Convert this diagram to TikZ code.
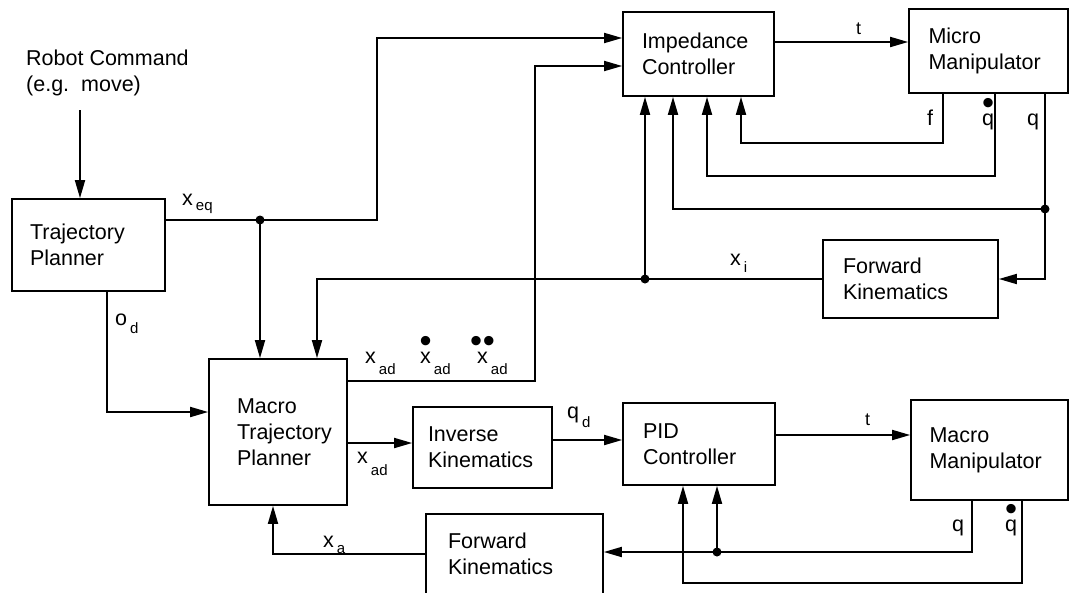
\documentclass[tikz,border=0pt]{standalone}
\usepackage{fontspec}
\setmainfont{Liberation Sans}
\usetikzlibrary{arrows.meta}
\newcommand\blkfont{\fontsize{21.5}{26}\selectfont}
\newcommand\subfont{\fontsize{15}{15}\selectfont}
% signal name with lowered index
\newcommand\sgn[3][7pt]{#2\kern3pt\raisebox{-#1}{\subfont #3}}
% dots over a letter
\newcommand\dotover[2]{\ooalign{#2\cr\hidewidth\raisebox{11pt}{\scalebox{1.6}{#1}}\hidewidth\cr}}
\tikzset{
  blk/.style={draw, line width=1.7pt, align=left, inner sep=2pt, font=\blkfont, text width=#1},
  wire/.style={line width=1.8pt},
  arr/.style={-{Triangle[length=18pt,width=10pt]}, line width=1.8pt},
  lbl/.style={font=\blkfont, inner sep=0pt, anchor=base west},
}
\begin{document}
\begin{tikzpicture}[x=1pt, y=-1pt]
\useasboundingbox (0,0) rectangle (1070,592);

% blocks
\node[blk=117pt, minimum width=153pt, minimum height=92pt] (tp) at (88.5,245) {Trajectory\\Planner};
\node[blk=113pt, minimum width=151pt, minimum height=84pt] (imp) at (698.5,54) {Impedance\\Controller};
\node[blk=120pt, minimum width=159pt, minimum height=84pt] (micro) at (988.5,51) {Micro\\Manipulator};
\node[blk=135pt, minimum width=175pt, minimum height=78pt] (fkt) at (910.5,279) {Forward\\Kinematics};
\node[blk=82pt, minimum width=138pt, minimum height=146pt] (mtp) at (278,432) {Macro\\\mbox{Trajectory}\\Planner\par\vspace*{30pt}};
\node[blk=109pt, minimum width=139pt, minimum height=81pt] (ik) at (482.5,447.5) {Inverse\\Kinematics};
\node[blk=112pt, minimum width=152pt, minimum height=82pt] (pid) at (699,444) {PID\\Controller};
\node[blk=120pt, minimum width=157pt, minimum height=100pt] (macro) at (989.5,450) {Macro\\Manipulator\par\vspace*{20pt}};
\node[blk=133pt, minimum width=177pt, minimum height=80pt] (fkb) at (514.5,554) {Forward\\Kinematics};

% command input
\node[lbl, align=left, anchor=north west] (cmd) at (26,50) {Robot Command\\(e.g.~~move)};
\coordinate (cmdout) at (80,110);
\draw[arr] (cmdout) -- (cmdout |- tp.north);

% equilibrium position
\coordinate (jeq) at (260,220);
\draw[wire] (tp.east |- jeq) -- (jeq);
\draw[arr] (jeq) -| (377,38) -- (377,38 -| imp.west);
\draw[arr] (jeq) -- (jeq |- mtp.north);
\fill (jeq) circle (4.5pt);
\node[lbl] (leq) at (182,205) {\sgn[5pt]{x}{eq}};

% orientation
\draw[arr] (107,0 |- tp.south) |- (mtp.west |- 0,412);
\node[lbl] (lod) at (115,325) {\sgn[8pt]{o}{d}};

% desired macro trajectory to impedance controller
\draw[arr] (mtp.east |- 0,381) -| (535,66) -- (535,66 -| imp.west);
\node[lbl] (lxad) at (365,363) {\sgn[11pt]{x}{ad}};
\node[lbl] (lxadv) at (420,363) {\sgn[11pt]{\dotover{\textbullet}{x}}{ad}};
\node[lbl] (lxada) at (477,363) {\sgn[11pt]{\dotover{\textbullet\kern0.5pt\textbullet}{x}}{ad}};

% micro loop
\draw[arr] (imp.east |- 0,42) -- (micro.west |- 0,42);
\node[lbl, font=\fontsize{18}{18}\selectfont] (lt1) at (856,34) {t};
\draw[arr] (943,0 |- micro.south) |- (741,143) -- (741,0 |- imp.south);
\draw[arr] (995,0 |- micro.south) |- (707,176) -- (707,0 |- imp.south);
\coordinate (jq) at (1045,209);
\draw[wire] (1045,0 |- micro.south) -- (jq);
\draw[arr] (jq) -| (673,0 |- imp.south);
\draw[arr] (jq) |- (fkt.east);
\fill (jq) circle (4.5pt);
\node[lbl] (lf) at (927,125) {f};
\node[lbl] (lqv1) at (982,125) {\dotover{\textbullet}{q}};
\node[lbl] (lq1) at (1027,125) {q};

% micro position
\coordinate (jxi) at (645,279);
\draw[arr] (fkt.west) -| (317,0 |- mtp.north);
\draw[arr] (jxi) -- (jxi |- imp.south);
\fill (jxi) circle (4.5pt);
\node[lbl] (lxi) at (730,265) {\sgn[7pt]{x}{i}};

% macro chain
\draw[arr] (mtp.east |- 0,443) -- (ik.west |- 0,443);
\node[lbl] (lxad2) at (357,463) {\sgn[12pt]{x}{ad}};
\draw[arr] (ik.east |- 0,440) -- (pid.west |- 0,440);
\node[lbl] (lqd) at (567,418) {\sgn[9pt]{q}{d}};
\draw[arr] (pid.east |- 0,435) -- (macro.west |- 0,435);
\node[lbl, font=\fontsize{18}{18}\selectfont] (lt2) at (865,425) {t};

% macro loop
\coordinate (jpq) at (717,552);
\draw[wire] (972,0 |- macro.south) |- (jpq);
\draw[arr] (jpq) -- (jpq -| fkb.east);
\draw[arr] (jpq) -- (jpq |- pid.south);
\fill (jpq) circle (4.5pt);
\draw[arr] (1022,0 |- macro.south) |- (683,583) -- (683,0 |- pid.south);
\node[lbl] (lq2) at (952,531) {q};
\node[lbl] (lqv2) at (1005,531) {\dotover{\textbullet}{q}};
\draw[arr] (fkb.west) -| (273,0 |- mtp.south);
\node[lbl] (lxa) at (323,547) {\sgn[6pt]{x}{a}};

\end{tikzpicture}
\end{document}
